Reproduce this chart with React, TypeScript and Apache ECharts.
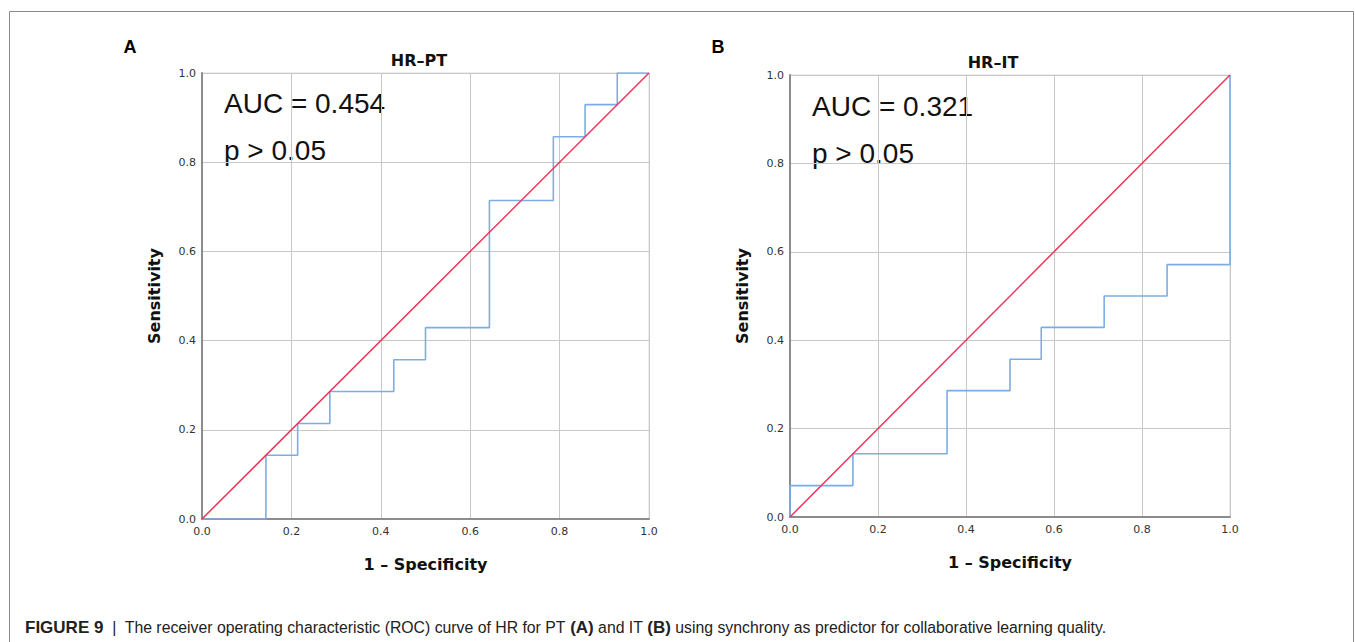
import React, { useEffect, useRef } from "react";
import * as echarts from "echarts";

// ROC points (1 - specificity, sensitivity), panel A: HR-PT
const fprPT = [0, 0.143, 0.214, 0.286, 0.429, 0.5, 0.643, 0.786, 0.857, 0.929, 1];
const tprPT = [0, 0.143, 0.214, 0.286, 0.357, 0.429, 0.714, 0.857, 0.929, 1, 1];
// panel B: HR-IT
const fprIT = [0, 0, 0.143, 0.357, 0.5, 0.571, 0.714, 0.857, 1];
const tprIT = [0, 0.071, 0.143, 0.286, 0.357, 0.429, 0.5, 0.571, 1];
// reference diagonal
const refX = [0, 1];
const refY = [0, 1];

const panelTitles = ["HR–PT", "HR–IT"];
const panelLetters = ["A", "B"];
const aucTexts = ["AUC = 0.454", "AUC = 0.321"];
const pTexts = ["p > 0.05", "p > 0.05"];
const xAxisTitle = "1 – Specificity";
const yAxisTitle = "Sensitivity";

const W = 1355;
const H = 642;

const grids = [
  { left: 202, top: 73, width: 447, height: 446 },
  { left: 790, top: 75, width: 440, height: 442 },
];

const tickFont = "DejaVu Sans";
const blue = "#7aaee4";
const red = "#e8375a";

function axisCommon(gridIndex: number) {
  return {
    gridIndex,
    type: "value",
    min: 0,
    max: 1,
    interval: 0.2,
    axisLine: { show: true, lineStyle: { color: "#8c8c8c", width: 2 } },
    axisTick: { show: false },
    splitLine: { show: true, lineStyle: { color: "#c8c8c8", width: 1 } },
    axisLabel: {
      formatter: (v: number) => v.toFixed(1),
      color: "#333",
      fontFamily: tickFont,
      fontSize: 11,
    },
    nameLocation: "middle",
    nameTextStyle: {
      fontFamily: tickFont,
      fontWeight: "bold",
      fontSize: 16,
      color: "#111",
    },
  };
}

function pairs(xs: number[], ys: number[]) {
  return xs.map((x, i) => [x, ys[i]]);
}

export default function App() {
  const ref = useRef<HTMLDivElement>(null);
  useEffect(() => {
    if (!ref.current) return;
    const chart = echarts.init(ref.current, null, { renderer: "svg" });
    const xAxes = grids.map((_, i) => ({
      ...axisCommon(i),
      name: xAxisTitle,
      nameGap: 37,
      axisLabel: { ...axisCommon(i).axisLabel, margin: 7 },
    }));
    const yAxes = grids.map((_, i) => ({
      ...axisCommon(i),
      name: yAxisTitle,
      nameGap: 40,
      nameRotate: 90,
      axisLabel: { ...axisCommon(i).axisLabel, margin: 6 },
    }));
    const graphics: any[] = [
      {
        type: "rect",
        shape: { x: 9.5, y: 11.5, width: 1344, height: 700 },
        style: { fill: "none", stroke: "#8a8a8a", lineWidth: 1 },
        silent: true,
      },
    ];
    const letterPos = [
      [130, 47],
      [718, 47],
    ];
    const titlePos = [419, 993];
    const titleY = [60, 62];
    const aucPos = [
      [224, 103, 150],
      [812, 106, 153],
    ];
    for (let i = 0; i < 2; i++) {
      graphics.push({
        type: "text",
        x: letterPos[i][0],
        y: letterPos[i][1],
        style: {
          text: panelLetters[i],
          font: "bold 18px 'Liberation Sans', Arial, sans-serif",
          fill: "#000",
          textAlign: "center",
          textVerticalAlign: "middle",
        },
      });
      graphics.push({
        type: "text",
        x: titlePos[i],
        y: titleY[i],
        style: {
          text: panelTitles[i],
          font: "bold 16px 'DejaVu Sans', sans-serif",
          fill: "#111",
          textAlign: "center",
          textVerticalAlign: "middle",
        },
      });
      graphics.push({
        type: "text",
        x: aucPos[i][0],
        y: aucPos[i][1],
        style: {
          text: aucTexts[i],
          font: "28px 'Liberation Sans', Arial, sans-serif",
          fill: "#111",
          textAlign: "left",
          textVerticalAlign: "middle",
        },
      });
      graphics.push({
        type: "text",
        x: aucPos[i][0],
        y: aucPos[i][2],
        style: {
          text: pTexts[i],
          font: "28px 'Liberation Sans', Arial, sans-serif",
          fill: "#111",
          textAlign: "left",
          textVerticalAlign: "middle",
        },
      });
    }
    graphics.push({
      type: "text",
      x: 25,
      y: 627,
      style: {
        text:
          "{b|FIGURE 9}{n|  |  The receiver operating characteristic (ROC) curve of HR for PT }{b|(A)}{n| and IT }{b|(B)}{n| using synchrony as predictor for collaborative learning quality.}",
        textVerticalAlign: "middle",
        rich: {
          b: {
            fontFamily: "'Liberation Sans', Arial, sans-serif",
            fontWeight: "bold",
            fontSize: 17,
            fill: "#222",
          },
          n: {
            fontFamily: "'Liberation Sans', Arial, sans-serif",
            fontSize: 15.8,
            fill: "#222",
          },
        },
      },
    });

    chart.setOption({
      animation: false,
      backgroundColor: "#fff",
      grid: grids.map((g) => ({
        ...g,
        show: true,
        borderColor: "#dcdcdc",
        borderWidth: 1,
        backgroundColor: "transparent",
      })),
      xAxis: xAxes,
      yAxis: yAxes,
      series: [
        {
          type: "line",
          xAxisIndex: 0,
          yAxisIndex: 0,
          data: pairs(refX, refY),
          symbol: "none",
          lineStyle: { color: red, width: 1.5 },
          z: 3,
        },
        {
          type: "line",
          xAxisIndex: 0,
          yAxisIndex: 0,
          step: "end",
          data: pairs(fprPT, tprPT),
          symbol: "none",
          lineStyle: { color: blue, width: 1.6 },
          z: 2,
        },
        {
          type: "line",
          xAxisIndex: 1,
          yAxisIndex: 1,
          data: pairs(refX, refY),
          symbol: "none",
          lineStyle: { color: red, width: 1.5 },
          z: 3,
        },
        {
          type: "line",
          xAxisIndex: 1,
          yAxisIndex: 1,
          step: "end",
          data: pairs(fprIT, tprIT),
          symbol: "none",
          lineStyle: { color: blue, width: 1.6 },
          z: 2,
        },
      ],
      graphic: graphics,
    });
    return () => chart.dispose();
  }, []);
  return (
    <div
      ref={ref}
      style={{ position: "absolute", left: 0, top: 0, width: W, height: H }}
    />
  );
}
